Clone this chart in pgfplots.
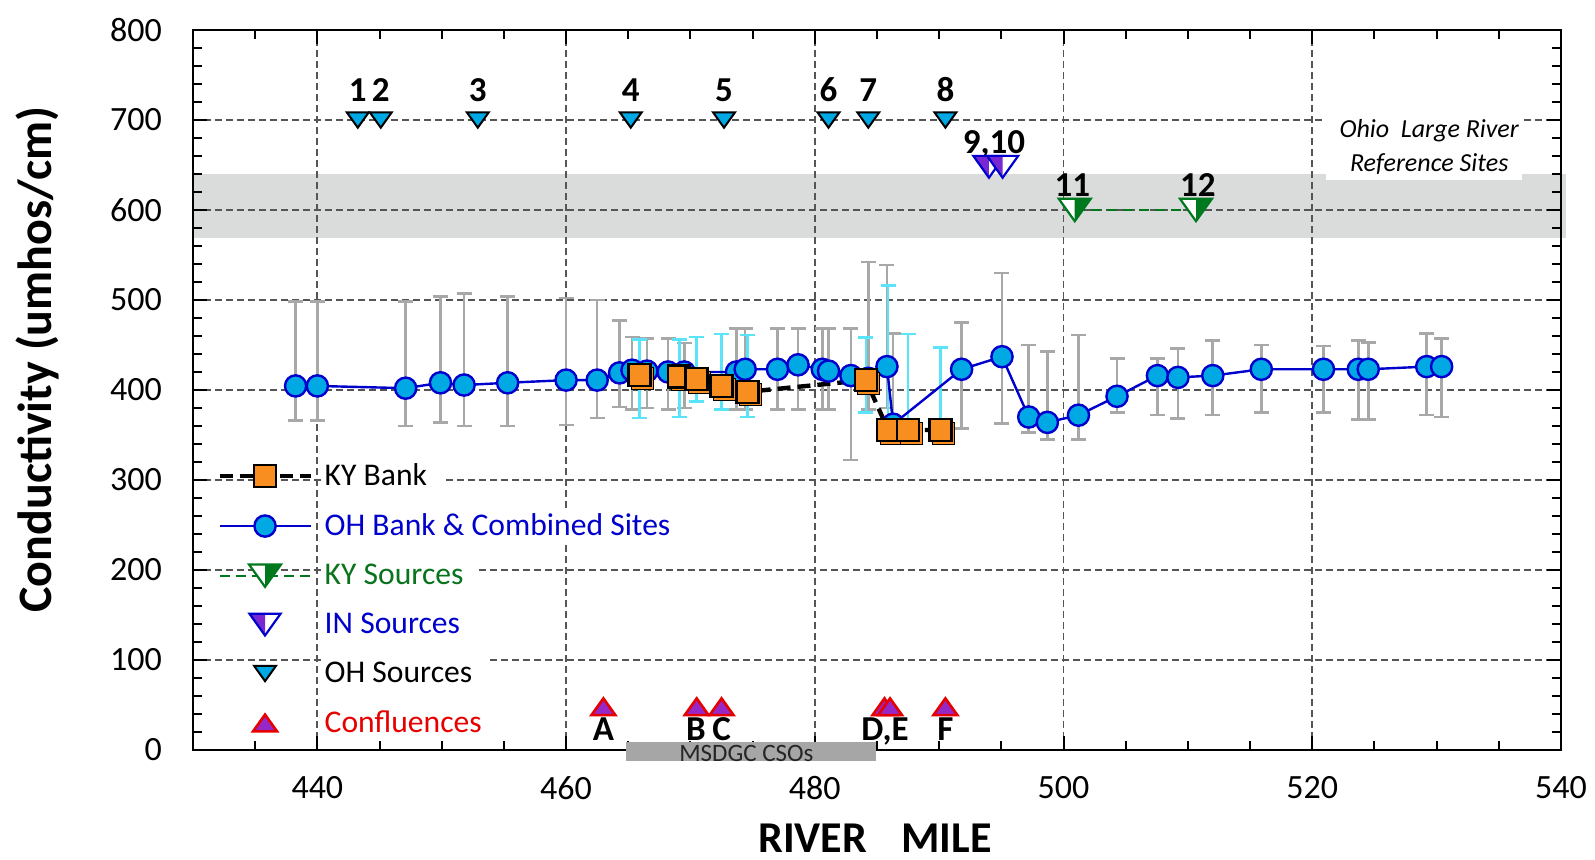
\documentclass[border=0pt]{standalone}
\usepackage{fontspec}
\setmainfont{Carlito}
\usepackage{pgfplots}
\pgfplotsset{compat=1.18}
\usepackage{pgfplotstable}

\definecolor{ohfill}{RGB}{0,168,228}
\definecolor{ohblue}{RGB}{0,0,205}
\definecolor{kyorange}{RGB}{248,142,32}
\definecolor{errgray}{RGB}{168,168,168}
\definecolor{errcyan}{RGB}{90,228,250}
\definecolor{bandgray}{RGB}{218,220,220}
\definecolor{gridgray}{RGB}{85,85,85}
\definecolor{kygreen}{RGB}{0,120,30}
\definecolor{txtgreen}{RGB}{10,115,30}
\definecolor{inpurple}{RGB}{120,40,210}
\definecolor{confpurple}{RGB}{150,40,200}
\definecolor{confred}{RGB}{230,0,0}
\definecolor{csogray}{RGB}{166,166,166}

\pgfdeclareplotmark{dtri}{%
  \pgfpathmoveto{\pgfqpoint{-\pgfplotmarksize}{0.7\pgfplotmarksize}}%
  \pgfpathlineto{\pgfqpoint{\pgfplotmarksize}{0.7\pgfplotmarksize}}%
  \pgfpathlineto{\pgfqpoint{0pt}{-0.7\pgfplotmarksize}}%
  \pgfpathclose
  \pgfusepathqfillstroke}
\pgfdeclareplotmark{utri}{%
  \pgfpathmoveto{\pgfqpoint{-\pgfplotmarksize}{-0.7\pgfplotmarksize}}%
  \pgfpathlineto{\pgfqpoint{\pgfplotmarksize}{-0.7\pgfplotmarksize}}%
  \pgfpathlineto{\pgfqpoint{0pt}{0.7\pgfplotmarksize}}%
  \pgfpathclose
  \pgfusepathqfillstroke}
\pgfdeclareplotmark{dtriL}{%
  \pgfscope\pgfsetfillcolor{white}%
  \pgfpathmoveto{\pgfqpoint{-\pgfplotmarksize}{0.7\pgfplotmarksize}}%
  \pgfpathlineto{\pgfqpoint{\pgfplotmarksize}{0.7\pgfplotmarksize}}%
  \pgfpathlineto{\pgfqpoint{0pt}{-0.7\pgfplotmarksize}}%
  \pgfpathclose\pgfusepathqfill\endpgfscope
  \pgfpathmoveto{\pgfqpoint{-\pgfplotmarksize}{0.7\pgfplotmarksize}}%
  \pgfpathlineto{\pgfqpoint{0pt}{0.7\pgfplotmarksize}}%
  \pgfpathlineto{\pgfqpoint{0pt}{-0.7\pgfplotmarksize}}%
  \pgfpathclose\pgfusepathqfill
  \pgfpathmoveto{\pgfqpoint{-\pgfplotmarksize}{0.7\pgfplotmarksize}}%
  \pgfpathlineto{\pgfqpoint{\pgfplotmarksize}{0.7\pgfplotmarksize}}%
  \pgfpathlineto{\pgfqpoint{0pt}{-0.7\pgfplotmarksize}}%
  \pgfpathclose\pgfusepathqstroke}
\pgfdeclareplotmark{dtriR}{%
  \pgfscope\pgfsetfillcolor{white}%
  \pgfpathmoveto{\pgfqpoint{-\pgfplotmarksize}{0.7\pgfplotmarksize}}%
  \pgfpathlineto{\pgfqpoint{\pgfplotmarksize}{0.7\pgfplotmarksize}}%
  \pgfpathlineto{\pgfqpoint{0pt}{-0.7\pgfplotmarksize}}%
  \pgfpathclose\pgfusepathqfill\endpgfscope
  \pgfpathmoveto{\pgfqpoint{0pt}{0.7\pgfplotmarksize}}%
  \pgfpathlineto{\pgfqpoint{\pgfplotmarksize}{0.7\pgfplotmarksize}}%
  \pgfpathlineto{\pgfqpoint{0pt}{-0.7\pgfplotmarksize}}%
  \pgfpathclose\pgfusepathqfill
  \pgfpathmoveto{\pgfqpoint{-\pgfplotmarksize}{0.7\pgfplotmarksize}}%
  \pgfpathlineto{\pgfqpoint{\pgfplotmarksize}{0.7\pgfplotmarksize}}%
  \pgfpathlineto{\pgfqpoint{0pt}{-0.7\pgfplotmarksize}}%
  \pgfpathclose\pgfusepathqstroke}

% OH bank & combined sites: mile, mean, upper, lower
\pgfplotstableread{
x y hi lo
438.25 404.5 498 366
440.0 404.5 498 366
447.1 402 498 360
449.9 408 504 364
451.8 405.5 507 360
455.3 408 504 360
460.0 411 502 361
462.5 411 500 369
464.3 419 477 381
465.3 422 459 378
466.5 421 457 380
468.2 420 457 378
469.5 420 452 380
473.7 420 468 378
474.4 423 468 378
477.0 423 468 378
478.65 428 468 378
480.6 423 468 378
481.1 421 468 378
482.9 416 468 322
484.3 413 542 378
485.8 426 539 380
486.3 362 463 350
491.8 423 475 357
495.05 437 530 363
497.2 370 450 353
498.7 364 443 345
501.2 372 461 345
504.3 393 435 375
507.55 416 435 372
509.2 414 446 368
512.0 416 455 372
515.9 423 450 375
520.9 423 449 375
523.7 423 455 367
524.5 423 453 367
529.2 426 463 372
530.4 426 457 370
}\ohdata

% KY bank
\pgfplotstableread{
x y hi lo
465.9 416.7 456 369
469.1 414.8 456 370
470.5 412 459 387
472.5 404.4 462 378
474.6 398 461 370
484.1 411 458 375
485.9 355.6 516 345
487.5 355.6 462 345
490.1 355.6 447 345
}\kydata

\begin{document}
\begin{tikzpicture}
\begin{axis}[
  set layers,
  scale only axis, width=684pt, height=360pt,
  xmin=430, xmax=540, ymin=0, ymax=800,
  xtick={440,460,...,540}, minor xtick={430,435,...,540},
  ytick={0,100,...,800}, minor ytick={0,20,...,800},
  tick align=inside, major tick length=7pt, minor tick length=4.5pt,
  tick style={black, line width=1pt},
  axis line style={black, line width=1.3pt},
  grid=major,
  major grid style={gridgray, line width=0.9pt, dash pattern=on 3.5pt off 2pt},
  /pgf/number format/assume math mode=true,
  /pgf/number format/set thousands separator={},
  ticklabel style={font=\fontsize{17}{17}\selectfont},
  xticklabel style={yshift=-9.5pt},
  yticklabel style={xshift=-12pt},
  xlabel={RIVER\hspace{17pt}MILE},
  ylabel={Conductivity (umhos/cm)},
  every axis x label/.style={at={(axis description cs:0.4985,-0.122)},anchor=center,font=\fontsize{22}{22}\selectfont\bfseries},
  every axis y label/.style={at={(axis description cs:-0.114,0.542)},rotate=90,anchor=center,font=\fontsize{24}{24}\selectfont\bfseries},
  clip=false,
  legend cell align=left,
  legend style={at={(axis description cs:0.0175,0.403)}, anchor=north west,
    draw=none, fill=none, inner sep=0pt, row sep=9.7pt, column sep=4.5pt,
    font=\fontsize{15.8}{15.8}\selectfont,
    nodes={fill=white, inner sep=1.5pt}},
  legend image code/.code={\draw[mark repeat=2,mark phase=2] plot coordinates {(0pt,0pt) (22.75pt,0pt) (45.5pt,0pt)};},
]
% reference band
\addplot[fill=bandgray, draw=none, on layer=axis background, forget plot]
  coordinates {(430,568.5) (540.4,568.5) (540.4,640) (430,640)} -- cycle;

% legend entries
\addlegendimage{black, line width=2.2pt, dash pattern=on 6.5pt off 3.5pt, mark=square*, mark size=5.5pt, mark options={solid, fill=kyorange, draw=black, line width=1.2pt}}
\addlegendentry{KY Bank\hspace*{6pt}}
\addlegendimage{ohblue, line width=1.2pt, mark=*, mark size=5.3pt, mark options={fill=ohfill, draw=ohblue}}
\addlegendentry{\textcolor{ohblue}{OH Bank \& Combined Sites}\hspace*{6pt}}
\addlegendimage{kygreen, line width=0.9pt, dash pattern=on 5pt off 3pt, mark=dtriR, mark size=8pt, mark options={solid, fill=kygreen, draw=kygreen, line width=1.1pt}}
\addlegendentry{\textcolor{txtgreen}{KY Sources}\hspace*{6pt}}
\addlegendimage{only marks, mark=dtriL, mark size=7.8pt, mark options={fill=inpurple, draw=ohblue, line width=1.1pt}}
\addlegendentry{\textcolor{ohblue}{IN Sources}\hspace*{6pt}}
\addlegendimage{only marks, mark=dtri, mark size=5.5pt, mark options={fill=ohfill, draw=black, line width=1pt}}
\addlegendentry{OH Sources\hspace*{6pt}}
\addlegendimage{only marks, mark=utri, mark size=6pt, mark options={fill=confpurple, draw=confred, line width=1.3pt}}
\addlegendentry{\textcolor{confred}{Confluences}\hspace*{6pt}}

% error bars
\addplot[only marks, mark=none, forget plot,
  error bars/.cd, y dir=both, y explicit,
  error bar style={errgray, line width=1.3pt},
  error mark options={errgray, line width=1.3pt, mark size=3.75pt, rotate=90}]
  table[x=x, y=y, y error plus expr=\thisrow{hi}-\thisrow{y}, y error minus expr=\thisrow{y}-\thisrow{lo}] {\ohdata};
\addplot[only marks, mark=none, forget plot,
  error bars/.cd, y dir=both, y explicit,
  error bar style={errcyan, line width=1.3pt},
  error mark options={errcyan, line width=1.3pt, mark size=3.75pt, rotate=90}]
  table[x=x, y=y, y error plus expr=\thisrow{hi}-\thisrow{y}, y error minus expr=\thisrow{y}-\thisrow{lo}] {\kydata};

% OH bank
\addplot[ohblue, line width=1.2pt, mark=*, mark size=5.3pt,
  mark options={solid, fill=ohfill, draw=ohblue, line width=1.2pt}, forget plot]
  table[x=x, y=y] {\ohdata};

% KY bank
\addplot[black, line width=2.2pt, dash pattern=on 6.5pt off 3.5pt, mark=none, forget plot]
  table[x=x, y=y] {\kydata};
\addplot[only marks, mark=square*, mark size=5.5pt,
  mark options={fill=kyorange, draw=none, xshift=1.5pt, yshift=-1.5pt}, forget plot]
  table[x=x, y=y] {\kydata};
\addplot[only marks, mark=square*, mark size=5.5pt,
  mark options={fill=kyorange, draw=black, line width=1.2pt}, forget plot]
  table[x=x, y=y] {\kydata};

% OH sources
\addplot[only marks, mark=dtri, mark size=5.5pt,
  mark options={fill=ohfill, draw=black, line width=1pt}, forget plot]
  coordinates {(443.25,700) (445.1,700) (452.9,700) (465.2,700) (472.7,700) (481.1,700) (484.3,700) (490.5,700)};
% IN sources
\addplot[only marks, mark=dtriL, mark size=7.8pt,
  mark options={fill=inpurple, draw=ohblue, line width=1.1pt}, forget plot]
  coordinates {(494.0,648) (495.1,648)};
% KY sources
\addplot[kygreen, line width=0.9pt, dash pattern=on 5pt off 3pt, mark=dtriR, mark size=8pt,
  mark options={solid, fill=kygreen, draw=kygreen, line width=1.1pt}, forget plot]
  coordinates {(500.9,600) (510.65,600)};
% confluences
\addplot[only marks, mark=utri, mark size=6pt,
  mark options={fill=confpurple, draw=confred, line width=1.3pt}, forget plot]
  coordinates {(463.0,48) (470.5,48) (472.5,48) (485.6,48) (486.05,48) (490.5,48)};

% source labels
\begin{scope}[every node/.style={font=\fontsize{17.5}{17.5}\selectfont\bfseries, anchor=base, inner sep=0pt}]
\node at (axis cs:443.25,720) {1};
\node at (axis cs:445.1,720) {2};
\node at (axis cs:452.9,720) {3};
\node at (axis cs:465.2,720) {4};
\node at (axis cs:472.7,720) {5};
\node at (axis cs:481.1,720) {6};
\node at (axis cs:484.3,720) {7};
\node at (axis cs:490.5,720) {8};
\node at (axis cs:494.4,663) {9,10};
\node at (axis cs:500.7,615.5) {11};
\node at (axis cs:510.8,615.5) {12};
\node at (axis cs:463.0,11) {A};
\node at (axis cs:470.45,11) {B};
\node at (axis cs:472.5,11) {C};
\node at (axis cs:485.65,11) {D,E};
\node at (axis cs:490.5,11) {F};
\end{scope}

% MSDGC CSOs bar
\fill[csogray] (axis cs:464.8,-12.2) rectangle (axis cs:484.9,9.2);
\node[font=\fontsize{12.5}{12.5}\selectfont, text=black!85, inner sep=0pt] at (axis cs:474.5,-3.5) {MSDGC CSOs};

% reference sites label
\fill[white] (axis cs:521.1,633) rectangle (axis cs:536.9,708);
\node[align=center, font=\fontsize{13}{17}\selectfont\itshape, inner sep=0pt] at (axis cs:529.4,670.5) {Ohio\ \ Large River\\Reference Sites};
\end{axis}
\pgfresetboundingbox
\path[use as bounding box] (-96.5pt,-55pt) rectangle (701pt,375pt);
\end{tikzpicture}
\end{document}
